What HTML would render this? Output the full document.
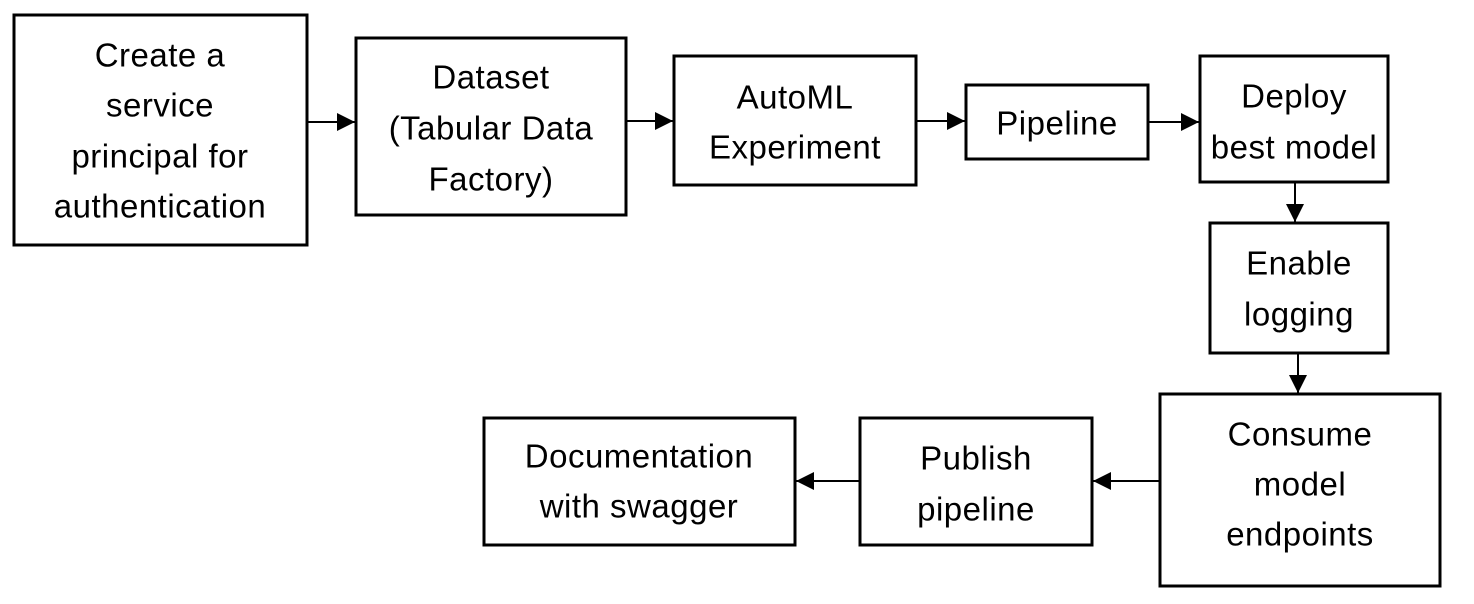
<!DOCTYPE html>
<html><head><meta charset="utf-8"><style>
html,body{margin:0;padding:0;background:#fff;}
svg{display:block}
text{font-family:"Liberation Sans",sans-serif;font-size:33px;fill:#000;text-anchor:middle;dominant-baseline:middle;letter-spacing:0.5px}
rect{fill:#fff;stroke:#000;stroke-width:3}
line{stroke:#000;stroke-width:2}
</style></head><body>
<svg width="1474" height="604" viewBox="0 0 1474 604">
<defs>
<marker id="b" viewBox="0 0 10 10" markerWidth="20" markerHeight="18" refX="10" refY="5" orient="auto" markerUnits="userSpaceOnUse"><path d="M0,0 L10,5 L0,10z" fill="#000"/></marker></defs>
<g transform="translate(0,2)">
<rect x="14" y="13" width="293" height="230"/>
<text x="160" y="56">Create a</text><text x="160" y="106">service</text><text x="160" y="157">principal for</text><text x="160" y="207">authentication</text>
<rect x="356" y="36" width="270" height="177"/>
<text x="491" y="78">Dataset</text><text x="491" y="129">(Tabular Data</text><text x="491" y="180">Factory)</text>
<rect x="674" y="54" width="242" height="129"/>
<text x="795" y="98">AutoML</text><text x="795" y="148">Experiment</text>
<rect x="966" y="83" width="182" height="74"/>
<text x="1057" y="124">Pipeline</text>
<rect x="1200" y="54" width="188" height="126"/>
<text x="1294" y="97">Deploy</text><text x="1294" y="148">best model</text>
<rect x="1210" y="221" width="178" height="130"/>
<text x="1299" y="264">Enable</text><text x="1299" y="315">logging</text>
<rect x="1160" y="392" width="280" height="192"/>
<text x="1300" y="435">Consume</text><text x="1300" y="485">model</text><text x="1300" y="535">endpoints</text>
<rect x="860" y="416" width="232" height="127"/>
<text x="976" y="459">Publish</text><text x="976" y="510">pipeline</text>
<rect x="484" y="416" width="311" height="127"/>
<text x="639" y="457">Documentation</text><text x="639" y="507">with swagger</text>
</g>
<line x1="307" y1="122" x2="355" y2="122" marker-end="url(#b)"/>
<line x1="626" y1="121" x2="673" y2="121" marker-end="url(#b)"/>
<line x1="916" y1="121" x2="965" y2="121" marker-end="url(#b)"/>
<line x1="1148" y1="122" x2="1199" y2="122" marker-end="url(#b)"/>
<line x1="1295" y1="182" x2="1295" y2="222" marker-end="url(#b)"/>
<line x1="1298" y1="353" x2="1298" y2="393" marker-end="url(#b)"/>
<line x1="1160" y1="481" x2="1093" y2="481" marker-end="url(#b)"/>
<line x1="860" y1="481" x2="796" y2="481" marker-end="url(#b)"/>
</svg>
</body></html>
